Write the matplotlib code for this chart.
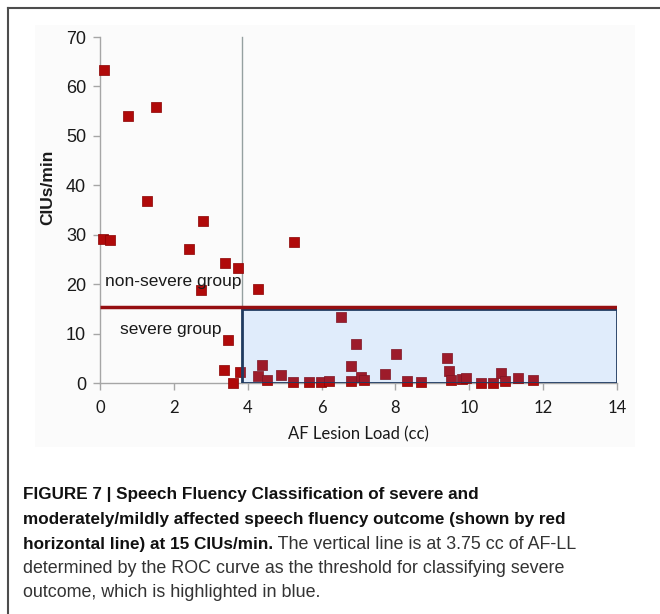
import matplotlib
matplotlib.use('Agg')
import matplotlib.pyplot as plt
from matplotlib.patches import Rectangle
from matplotlib.lines import Line2D

# AF lesion load (cc) and CIUs/min
lesion_load = [0.10, 0.77, 1.52, 1.26, 0.09, 0.27, 2.78, 2.42, 5.24, 3.38,
               3.73, 2.73, 4.28, 6.53, 3.47, 6.93, 4.38, 6.80, 3.36, 3.79,
               4.29, 4.53, 4.90, 3.61, 5.22, 5.67, 5.99, 6.19, 6.79, 7.08,
               7.14, 7.73, 8.02, 8.32, 8.70, 9.40, 9.44, 9.50, 9.79, 9.91,
               10.33, 10.63, 10.86, 10.98, 11.31, 11.73]
cius = [63.3, 54.0, 55.8, 36.9, 29.1, 28.9, 32.8, 27.2, 28.6, 24.3,
        23.2, 18.8, 19.0, 13.4, 8.6, 7.8, 3.7, 3.5, 2.6, 2.2,
        1.5, 0.7, 1.7, 0.1, 0.3, 0.2, 0.2, 0.5, 0.4, 1.2,
        0.6, 1.8, 5.9, 0.4, 0.2, 5.0, 2.4, 0.6, 0.8, 1.0,
        0.0, 0.0, 2.0, 0.4, 1.1, 0.6]

roc_cut = 3.85      # vertical threshold as drawn
fluency_cut = 15.4  # red horizontal line as drawn
box_top = 14.9

xticks = [0, 2, 4, 6, 8, 10, 12, 14]
yticks = [0, 10, 20, 30, 40, 50, 60, 70]

fig = plt.figure(figsize=(6.6, 6.14), dpi=100)

# faint panel behind the chart + page frame
bg = fig.add_axes([35 / 660, 1 - 447 / 614, 600 / 660, 422 / 614], zorder=-5)
bg.axis('off')
bg.add_patch(Rectangle((0, 0), 1, 1, transform=bg.transAxes, color='#fbfbfb'))
fig.lines.append(Line2D([8 / 660, 8 / 660], [0, 1 - 8 / 614], transform=fig.transFigure,
                        color='#4d4d4d', lw=1.5))
fig.lines.append(Line2D([8 / 660, 1], [1 - 8 / 614, 1 - 8 / 614], transform=fig.transFigure,
                        color='#4d4d4d', lw=1.5))

ax = fig.add_axes([100 / 660, 1 - 383 / 614, 517 / 660, 346 / 614])
ax.set_facecolor('none')
ax.set_xlim(0, 14)
ax.set_ylim(0, 70)

for s in ['top', 'right']:
    ax.spines[s].set_visible(False)
for s in ['left', 'bottom']:
    ax.spines[s].set_color('#a6a6a6')
    ax.spines[s].set_linewidth(1)

ax.set_xticks(xticks)
ax.set_yticks(yticks)
ax.tick_params(axis='both', colors='#a6a6a6', length=5, width=1)
ax.set_yticklabels([str(v) for v in yticks], fontsize=13, color='#1a1a1a',
                   family='Liberation Sans')
ax.set_xticklabels([str(v) for v in xticks], fontsize=12, color='#1a1a1a',
                   family='Lato')
ax.tick_params(axis='x', pad=7)
ax.tick_params(axis='y', pad=5)

ax.set_xlabel('AF Lesion Load (cc)', fontsize=12, family='Lato', color='#1a1a1a')
ax.xaxis.set_label_coords(0.5, -0.125)
ax.set_ylabel('CIUs/min', fontsize=12.5, family='Liberation Sans', fontweight='bold',
              color='#1a1a1a')
ax.yaxis.set_label_coords(-0.086, 0.565)

# vertical ROC threshold
ax.plot([roc_cut, roc_cut], [0, 70], color='#95a0a0', lw=1, zorder=1, clip_on=False)

# severe region box
ax.add_patch(Rectangle((roc_cut, 0), 14 - roc_cut, box_top, facecolor='white',
                       edgecolor='none', zorder=1))
ax.scatter(lesion_load, cius, marker='s', s=46, color='#b00a0a',
           edgecolors='#8a0000', linewidths=0.5, zorder=3, clip_on=False)
ax.add_patch(Rectangle((roc_cut, 0), 14 - roc_cut, box_top, facecolor='#3380e6',
                       alpha=0.15, edgecolor='none', zorder=4))
ax.add_patch(Rectangle((roc_cut, 0), 14 - roc_cut, box_top, facecolor='none',
                       edgecolor='#1f3a60', lw=2, zorder=5))

# fluency cut line
ax.plot([0, 14], [fluency_cut, fluency_cut], color='#950f12', lw=2.5, zorder=6,
        solid_capstyle='butt')

ax.text(0.14, 20.6, 'non-severe group', fontsize=12.5, family='Liberation Sans',
        va='center', ha='left', color='#1a1a1a', zorder=7)
ax.text(0.55, 10.9, 'severe group', fontsize=12.5, family='Liberation Sans',
        va='center', ha='left', color='#1a1a1a', zorder=7)

# caption
cap_font = 'Liberation Sans'
bold_size = 12.3
plain_size = 12.9
x0 = 23 / 660
baselines = [499, 524, 549, 573, 597]
bold_lines = ['FIGURE 7 | Speech Fluency Classification of severe and',
              'moderately/mildly affected speech fluency outcome (shown by red',
              'horizontal line) at 15 CIUs/min.']
plain_lines = ['determined by the ROC curve as the threshold for classifying severe',
               'outcome, which is highlighted in blue.']
for i, line in enumerate(bold_lines):
    t = fig.text(x0, 1 - baselines[i] / 614, line, fontsize=bold_size, fontweight='bold',
                 family=cap_font, va='baseline', color='#111111')
# the plain continuation right after the bold part of line 3
fig.canvas.draw()
bb = t.get_window_extent()
fig.text(bb.x1 / fig.bbox.width, 1 - baselines[2] / 614, ' The vertical line is at 3.75 cc of AF-LL',
         fontsize=plain_size, family=cap_font, va='baseline', color='#333333')
for j, line in enumerate(plain_lines):
    fig.text(x0, 1 - baselines[3 + j] / 614, line, fontsize=plain_size,
             family=cap_font, va='baseline', color='#333333')

fig.savefig('out.png', dpi=100)
